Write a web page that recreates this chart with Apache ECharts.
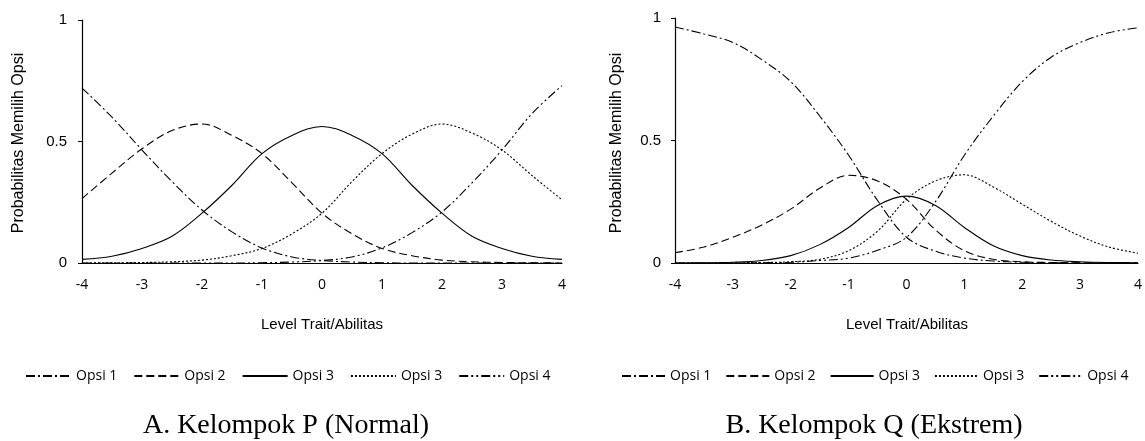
<!DOCTYPE html>
<html>
<head>
<meta charset="utf-8">
<script src="https://cdn.jsdelivr.net/npm/echarts@6/dist/echarts.min.js"></script>
<style>
html,body{margin:0;padding:0;background:#fff;}
#chart{width:1145px;height:441px;}
</style>
</head>
<body>
<div id="chart"></div>
<script>
// ---- data ----
var thetaValues = [-4,-3.5,-3,-2.5,-2,-1.5,-1,-0.5,0,0.5,1,1.5,2,2.5,3,3.5,4];
var xTickLabels = ['-4','-3','-2','-1','0','1','2','3','4'];
var yTickLabels = ['0','0.5','1'];
var legendNames = ['Opsi 1','Opsi 2','Opsi 3','Opsi 3','Opsi 4'];

// Panel A: Kelompok P (Normal)
var normalOpsi1 = [0.72,0.60,0.465,0.335,0.218,0.128,0.062,0.025,0.01,0.004,0.001,0,0,0,0,0,0];
var normalOpsi2 = [0.265,0.37,0.47,0.545,0.572,0.525,0.45,0.33,0.205,0.12,0.06,0.03,0.012,0.005,0.002,0.001,0];
var normalOpsi3 = [0.015,0.028,0.06,0.11,0.205,0.32,0.45,0.525,0.562,0.525,0.45,0.32,0.205,0.11,0.06,0.028,0.015];
var normalOpsi3b = [0,0.001,0.002,0.005,0.012,0.03,0.06,0.12,0.205,0.335,0.45,0.53,0.572,0.535,0.465,0.36,0.26];
var normalOpsi4 = [0,0,0,0,0,0,0.001,0.004,0.01,0.025,0.062,0.125,0.21,0.33,0.465,0.615,0.73];

// Panel B: Kelompok Q (Ekstrem)
var ekstremOpsi1 = [0.963,0.935,0.90,0.83,0.74,0.60,0.44,0.255,0.105,0.048,0.02,0.008,0.003,0.001,0,0,0];
var ekstremOpsi2 = [0.042,0.065,0.105,0.155,0.22,0.305,0.358,0.335,0.26,0.135,0.05,0.015,0.005,0.002,0.001,0,0];
var ekstremOpsi3 = [0,0.001,0.003,0.01,0.03,0.075,0.145,0.235,0.273,0.235,0.145,0.07,0.03,0.012,0.005,0.002,0.001];
var ekstremOpsi3b = [0,0,0.001,0.002,0.005,0.015,0.05,0.13,0.26,0.335,0.36,0.31,0.24,0.17,0.11,0.065,0.04];
var ekstremOpsi4 = [0,0,0,0.001,0.003,0.01,0.02,0.052,0.105,0.25,0.44,0.60,0.74,0.84,0.90,0.94,0.96];

var panelTitles = ['A. Kelompok P (Normal)','B. Kelompok Q (Ekstrem)'];
var xAxisTitle = 'Level Trait/Abilitas';
var yAxisTitle = 'Probabilitas Memilih Opsi';

// ---- styles ----
var dashStyles = [[9,3,2,3],[8,4],'solid',[2,2],[9,3,2,3,2,3]];

function pairs(vals){ return thetaValues.map(function(x,i){ return [x, vals[i]]; }); }

var panels = [
  [normalOpsi1,normalOpsi2,normalOpsi3,normalOpsi3b,normalOpsi4],
  [ekstremOpsi1,ekstremOpsi2,ekstremOpsi3,ekstremOpsi3b,ekstremOpsi4]
];

var series = [];
var legends = [];
panels.forEach(function(sets, p){
  var names = [];
  sets.forEach(function(vals, k){
    var nm = legendNames[k] + '|' + p + k;
    names.push(nm);
    series.push({
      name: nm, type: 'line', xAxisIndex: p, yAxisIndex: p,
      data: pairs(vals), symbol: 'none', smooth: 0.35,
      lineStyle: {color:'#000', width:1.1, type: dashStyles[k]},
      itemStyle: {color:'#000'},
      silent: true, animation: false
    });
  });
  legends.push({
    data: names,
    left: p === 0 ? 20 : 616,
    top: 364,
    padding: 5,
    itemWidth: p === 0 ? 45 : 43, itemHeight: 10, itemGap: p === 0 ? 16 : 14,
    selectedMode: false,
    itemStyle: {opacity: 0},
    formatter: function(n){ return n.split('|')[0]; },
    textStyle: {fontFamily:'Open Sans', fontSize:14, color:'#000'}
  });
});

function xAxisCfg(gi){
  return {
    type:'value', gridIndex: gi, min:-4, max:4, interval:1,
    axisLine:{show:true, onZero:false, lineStyle:{color:'#000', width:1.2}},
    axisTick:{show:false},
    splitLine:{show:false},
    axisLabel:{margin:15, color:'#000', fontFamily:'Open Sans', fontSize:14,
      formatter:function(v){ return xTickLabels[Math.round(v)+4]; }}
  };
}
function yAxisCfg(gi, margin){
  return {
    type:'value', gridIndex: gi, min:0, max:1, interval:0.5,
    axisLine:{show:true, onZero:false, lineStyle:{color:'#000', width:1.2}},
    axisTick:{show:true, inside:false, length:4, lineStyle:{color:'#000'}},
    splitLine:{show:false},
    axisLabel:{margin:margin, color:'#000', fontFamily:'Liberation Sans', fontSize:15,
      formatter:function(v){ return yTickLabels[Math.round(v*2)]; }}
  };
}

var chart = echarts.init(document.getElementById('chart'), null, {renderer:'canvas'});
chart.setOption({
  backgroundColor:'#fff',
  animation:false,
  grid:[
    {left:82, top:20, width:480, height:243},
    {left:675, top:18, width:464, height:245}
  ],
  xAxis:[xAxisCfg(0), xAxisCfg(1)],
  yAxis:[yAxisCfg(0,15), yAxisCfg(1,14)],
  legend: legends,
  series: series,
  graphic:[
    {type:'text', x:322, y:325, style:{text:xAxisTitle, fontFamily:'Liberation Sans', fontSize:15, fill:'#000', align:'center', verticalAlign:'middle'}},
    {type:'text', x:907, y:325, style:{text:xAxisTitle, fontFamily:'Liberation Sans', fontSize:15, fill:'#000', align:'center', verticalAlign:'middle'}},
    {type:'text', x:19, y:143, rotation:Math.PI/2, style:{text:yAxisTitle, fontFamily:'Liberation Sans', fontSize:16, fill:'#000', align:'center', verticalAlign:'middle'}},
    {type:'text', x:617, y:143, rotation:Math.PI/2, style:{text:yAxisTitle, fontFamily:'Liberation Sans', fontSize:16, fill:'#000', align:'center', verticalAlign:'middle'}},
    {type:'text', x:286, y:426, style:{text:panelTitles[0], fontFamily:'Liberation Serif', fontSize:28, fill:'#000', align:'center', verticalAlign:'middle'}},
    {type:'text', x:874, y:426, style:{text:panelTitles[1], fontFamily:'Liberation Serif', fontSize:28, fill:'#000', align:'center', verticalAlign:'middle'}}
  ]
});
</script>
</body>
</html>
